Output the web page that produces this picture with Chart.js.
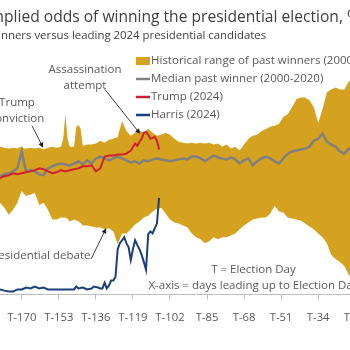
<!DOCTYPE html>
<html>
<head>
    <title>Implied odds of winning the presidential election</title>
    <style>
        body, html {
            margin: 0;
            padding: 0;
            background-color: #ffffff;
            overflow: hidden;
        }
    </style>
</head>
<body>
    <canvas id="myChart" width="350" height="350"></canvas>
    <script src="https://cdn.jsdelivr.net/npm/chart.js"></script>
    <script>
        // days before election day (T = 0)
        const bandDays = [-180, -178, -176, -174, -172, -171, -170, -169, -168, -166, -164, -162, -160, -158, -156, -154, -152, -151, -150, -149,
            -148, -146, -145, -144, -143, -142, -140, -138, -136, -134, -132, -130, -128, -126, -124, -122, -120, -118, -116, -114,
            -112, -110, -108, -106, -104, -102, -100, -98, -96, -94, -92, -90, -88, -86, -84, -82, -80, -78, -76, -74,
            -72, -70, -68, -66, -64, -62, -60, -58, -56, -54, -52, -50, -48, -46, -44, -42, -40, -38, -36, -34,
            -32, -30, -28, -26, -24, -22, -20, -18];
        const rangeTop = [61.7, 61.3, 60.9, 61.3, 60.9, 61.5, 61.7, 61.0, 60.9, 61.3, 60.9, 61.3, 60.5, 61.3, 61.7, 61.3, 61.7, 65.0, 75.3, 65.0,
            61.7, 61.7, 70.0, 70.8, 69.1, 62.1, 62.6, 62.6, 63.0, 64.2, 63.4, 64.6, 65.0, 65.8, 72.4, 68.3, 66.3, 67.5, 68.3, 67.5,
            69.1, 67.5, 66.3, 66.7, 67.5, 66.7, 65.0, 63.8, 63.4, 63.0, 63.4, 63.0, 63.4, 63.0, 63.4, 62.6, 63.0, 61.7, 62.6, 60.9,
            61.7, 60.1, 62.6, 65.0, 66.3, 66.7, 68.3, 69.1, 70.0, 70.4, 71.2, 74.1, 75.3, 78.2, 81.5, 82.3, 82.3, 81.1, 78.2, 71.6,
            77.4, 84.4, 85.6, 86.4, 85.6, 85.6, 88.9, 89.7];
        const rangeBottom = [38.3, 36.2, 33.3, 35.4, 38.3, 41.0, 43.2, 42.0, 41.2, 41.6, 42.4, 37.4, 38.3, 35.4, 31.3, 31.3, 32.1, 32.0, 32.1, 31.5,
            30.5, 31.3, 30.9, 30.5, 29.8, 28.8, 28.8, 28.4, 28.0, 28.0, 27.2, 27.6, 26.3, 21.0, 25.5, 25.5, 27.2, 29.2, 30.5, 32.1,
            32.9, 34.6, 35.8, 36.2, 33.7, 31.3, 30.0, 29.6, 28.8, 28.0, 25.5, 23.9, 23.0, 21.4, 22.2, 23.9, 23.0, 23.9, 23.9, 24.7,
            25.5, 27.2, 28.8, 30.0, 31.3, 31.7, 32.1, 32.1, 33.7, 37.0, 34.6, 34.2, 32.1, 31.7, 31.3, 30.9, 29.6, 28.4, 27.2, 25.5,
            23.9, 21.4, 16.5, 14.8, 13.6, 11.9, 8.2, 6.6];
        const medianWinner = [49.4, 50.2, 50.6, 51.4, 52.7, 56.5, 59.7, 55.0, 51.4, 51.9, 51.4, 50.2, 49.8, 52.7, 53.5, 54.3, 54.7, 54.5, 54.3, 54.0,
            53.9, 54.7, 55.0, 55.6, 55.0, 54.3, 56.0, 54.7, 56.8, 57.6, 56.8, 56.0, 56.8, 57.6, 56.8, 56.0, 55.1, 55.6, 54.7, 56.0,
            55.6, 56.4, 56.8, 56.4, 56.0, 55.6, 56.0, 56.4, 56.8, 56.4, 57.6, 57.6, 56.8, 55.6, 56.8, 58.0, 57.2, 56.8, 56.4, 57.2,
            56.4, 54.7, 56.0, 56.8, 53.9, 55.6, 56.8, 57.6, 56.8, 55.6, 54.7, 56.8, 58.8, 59.7, 60.1, 60.5, 60.9, 61.7, 64.2, 65.0,
            67.1, 63.8, 62.6, 61.7, 59.7, 58.8, 60.9, 60.9];

        const trumpDays = [-180, -178, -176, -174, -172, -170, -168, -166, -164, -162, -160, -158, -156, -154, -152, -150, -148, -146, -144, -142,
            -140, -138, -136, -134, -132, -130, -128, -126, -124, -122, -120, -118, -117, -116, -115, -114, -113, -112, -111, -110,
            -109, -108, -107];
        const trumpOdds = [48.6, 49.4, 49.8, 50.6, 50.2, 50.6, 51.0, 51.4, 51.9, 52.7, 52.3, 51.4, 50.6, 51.0, 51.9, 51.4, 51.9, 52.3, 52.7, 53.5,
            53.5, 53.9, 51.4, 52.7, 57.6, 58.0, 58.0, 58.4, 58.4, 58.8, 60.1, 63.0, 62.1, 63.8, 65.0, 67.5, 67.9, 66.7, 65.0, 65.4,
            65.8, 64.2, 60.5];

        const harrisDays = [-180, -178, -176, -174, -172, -170, -168, -166, -164, -162, -160, -158, -156, -154, -152, -150, -148, -146, -145, -144,
            -142, -140, -138, -137, -135, -134, -133, -132, -131, -130, -129, -128, -127, -126, -125, -124, -123, -122, -121, -120,
            -119, -118, -117, -116, -115, -114, -113, -112, -111, -110, -109, -108, -107];
        const harrisOdds = [2.1, 1.6, 1.2, 1.2, 2.1, 2.1, 2.9, 2.5, 3.3, 2.5, 2.9, 2.1, 2.1, 2.1, 2.1, 2.1, 2.1, 2.1, 3.3, 2.5,
            2.9, 2.1, 2.5, 3.3, 2.9, 2.5, 2.5, 4.9, 2.5, 3.7, 5.8, 5.8, 7.4, 18.9, 21.4, 22.6, 23.9, 21.4, 19.8, 14.4,
            18.9, 22.6, 20.6, 18.9, 16.5, 13.6, 10.3, 25.1, 26.3, 25.5, 27.6, 29.6, 40.3];

        const tickDays = [-187, -170, -153, -136, -119, -102, -85, -68, -51, -34, -17];

        const FONT = "'Open Sans', 'Noto Sans', sans-serif";
        const GOLD = '#D4A21F';
        const GREY = '#808080';
        const RED = '#D02030';
        const NAVY = '#1B3F7C';

        function toPoints(days, values) {
            return days.map((d, i) => ({ x: d, y: values[i] }));
        }

        function arrow(ctx, x1, y1, x2, y2) {
            const a = Math.atan2(y2 - y1, x2 - x1);
            ctx.beginPath();
            ctx.moveTo(x1, y1);
            ctx.lineTo(x2 - 3 * Math.cos(a), y2 - 3 * Math.sin(a));
            ctx.stroke();
            ctx.beginPath();
            ctx.moveTo(x2, y2);
            ctx.lineTo(x2 - 5 * Math.cos(a) + 2.5 * Math.sin(a), y2 - 5 * Math.sin(a) - 2.5 * Math.cos(a));
            ctx.lineTo(x2 - 5 * Math.cos(a) - 2.5 * Math.sin(a), y2 - 5 * Math.sin(a) + 2.5 * Math.cos(a));
            ctx.closePath();
            ctx.fill();
        }

        // titles, legend and notes drawn on top of the chart
        const overlay = {
            id: 'overlay',
            afterDraw(chart) {
                const ctx = chart.ctx;
                const x = chart.scales.x;
                const y = chart.scales.y;
                ctx.save();
                ctx.textBaseline = 'alphabetic';
                ctx.textAlign = 'left';

                ctx.fillStyle = '#404040';
                ctx.font = '15.6px ' + FONT;
                ctx.fillText('Implied odds of winning the presidential election, %', 4 - ctx.measureText('Im').width, 22);

                ctx.fillStyle = '#404040';
                ctx.font = '11.4px ' + FONT;
                ctx.fillText('Past winners versus leading 2024 presidential candidates', 1 - ctx.measureText('Past wi').width, 39);

                // legend
                ctx.font = '11.5px ' + FONT;
                ctx.textBaseline = 'middle';
                const lx = 136, ly = 61, step = 18;
                ctx.fillStyle = GOLD;
                ctx.fillRect(lx, ly - 4, 14, 8);
                ctx.lineWidth = 2.5;
                [GREY, RED, NAVY].forEach((c, i) => {
                    ctx.strokeStyle = c;
                    ctx.beginPath();
                    ctx.moveTo(lx, ly + step * (i + 1));
                    ctx.lineTo(lx + 14, ly + step * (i + 1));
                    ctx.stroke();
                });
                ctx.fillStyle = '#595959';
                ['Historical range of past winners (2000-2020)', 'Median past winner (2000-2020)', 'Trump (2024)', 'Harris (2024)']
                    .forEach((t, i) => ctx.fillText(t, lx + 15, ly + step * i));

                // event notes
                ctx.font = '11.5px ' + FONT;
                ctx.textAlign = 'center';
                ctx.fillText('Trump', x.getPixelForValue(-172.2), y.getPixelForValue(80.2));
                ctx.fillText('conviction', x.getPixelForValue(-172.2), y.getPixelForValue(73.3));
                ctx.fillText('Assassination', x.getPixelForValue(-141), y.getPixelForValue(93.8));
                ctx.fillText('attempt', x.getPixelForValue(-141), y.getPixelForValue(87.2));
                ctx.fillText('T = Election Day', x.getPixelForValue(-63.7), y.getPixelForValue(10.3));
                ctx.fillText('X-axis = days leading up to Election Day', x.getPixelForValue(-63.7), y.getPixelForValue(3.7));
                ctx.textAlign = 'right';
                ctx.fillText('Presidential debate', x.getPixelForValue(-138.5), y.getPixelForValue(16));

                ctx.strokeStyle = '#404040';
                ctx.fillStyle = '#202020';
                ctx.lineWidth = 1;
                arrow(ctx, x.getPixelForValue(-165.3), y.getPixelForValue(70.4), x.getPixelForValue(-160.2), y.getPixelForValue(61.3));
                arrow(ctx, x.getPixelForValue(-131.8), y.getPixelForValue(85.6), x.getPixelForValue(-115.7), y.getPixelForValue(67.1));
                arrow(ctx, x.getPixelForValue(-138.2), y.getPixelForValue(14.8), x.getPixelForValue(-131.3), y.getPixelForValue(27.6));
                ctx.restore();
            }
        };

        const ctx = document.getElementById('myChart').getContext('2d');
        const myChart = new Chart(ctx, {
            type: 'line',
            data: {
                datasets: [
                    {
                        label: 'Historical range of past winners (2000-2020)',
                        data: toPoints(bandDays, rangeTop),
                        borderWidth: 0,
                        pointRadius: 0,
                        backgroundColor: GOLD,
                        fill: '+1',
                        order: 4
                    },
                    {
                        label: 'range bottom',
                        data: toPoints(bandDays, rangeBottom),
                        borderWidth: 0,
                        pointRadius: 0,
                        fill: false,
                        order: 5
                    },
                    {
                        label: 'Median past winner (2000-2020)',
                        data: toPoints(bandDays, medianWinner),
                        borderColor: GREY,
                        borderWidth: 2.5,
                        pointRadius: 0,
                        fill: false,
                        order: 3
                    },
                    {
                        label: 'Trump (2024)',
                        data: toPoints(trumpDays, trumpOdds),
                        borderColor: RED,
                        borderWidth: 2,
                        pointRadius: 0,
                        fill: false,
                        order: 2
                    },
                    {
                        label: 'Harris (2024)',
                        data: toPoints(harrisDays, harrisOdds),
                        borderColor: NAVY,
                        borderWidth: 2,
                        pointRadius: 0,
                        fill: false,
                        order: 1
                    }
                ]
            },
            options: {
                responsive: false,
                animation: false,
                devicePixelRatio: 1,
                layout: { padding: { top: 55, bottom: 14, left: 0, right: 0 } },
                plugins: {
                    legend: { display: false },
                    tooltip: { enabled: false },
                    title: { display: false }
                },
                scales: {
                    x: {
                        type: 'linear',
                        min: -180,
                        max: -19.4,
                        afterBuildTicks: (scale) => { scale.ticks = tickDays.map(v => ({ value: v })); },
                        afterFit: (scale) => { scale.paddingLeft = 0; scale.paddingRight = 0; },
                        ticks: {
                            autoSkip: false,
                            maxRotation: 0,
                            padding: 11.5,
                            color: '#595959',
                            font: { family: FONT, size: 11.3 },
                            callback: (v) => 'T' + v
                        },
                        grid: { drawOnChartArea: false, drawTicks: true, tickLength: 5, color: '#BFBFBF' },
                        border: { display: true, color: '#BFBFBF' }
                    },
                    y: {
                        display: false,
                        min: 0,
                        max: 100
                    }
                }
            },
            plugins: [overlay]
        });
    </script>
</body>
</html>
